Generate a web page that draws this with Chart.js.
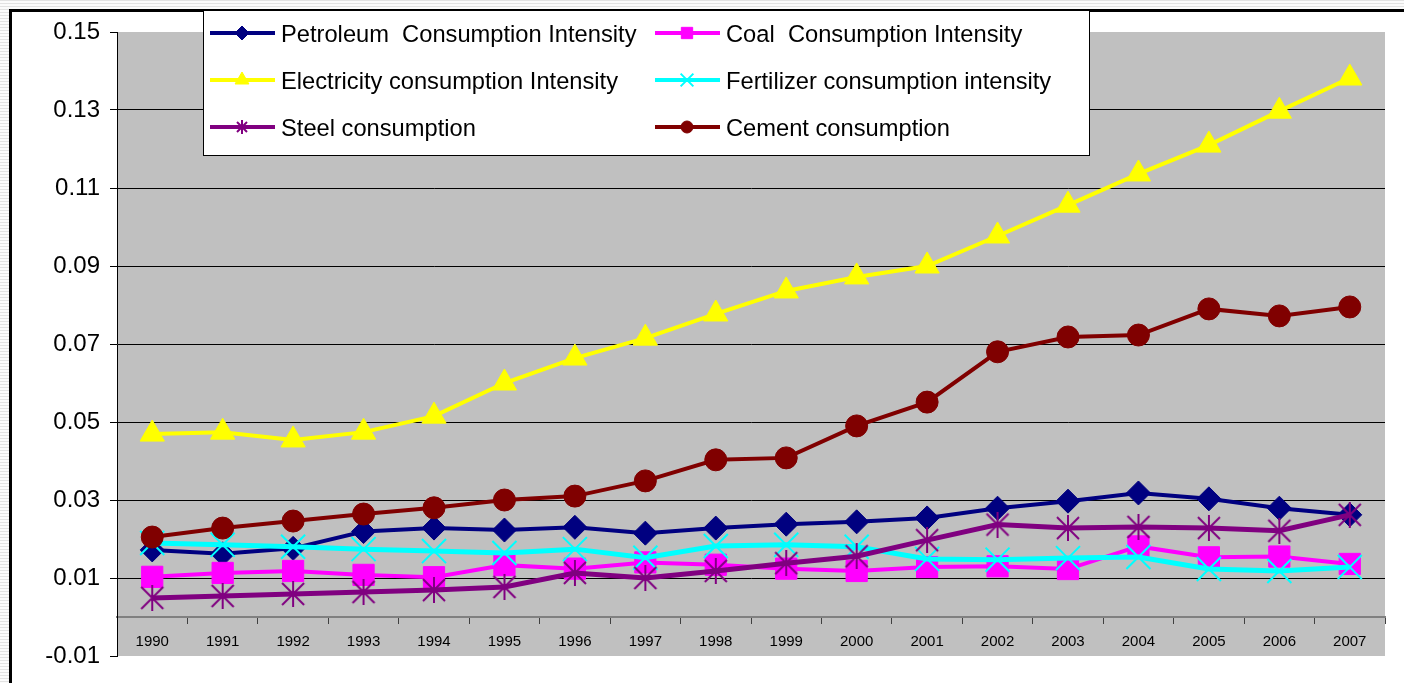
<!DOCTYPE html>
<html>
<head>
<meta charset="utf-8">
<script src="https://cdn.jsdelivr.net/npm/chart.js@4.4.0/dist/chart.umd.min.js"></script>
<style>
  html, body { margin: 0; padding: 0; overflow: hidden; }
  body {
    width: 1404px; height: 683px; position: relative;
    background: repeating-linear-gradient(to bottom, #e2e2e2 0px, #e2e2e2 1px, #fbfbfb 1px, #fbfbfb 3px);
  }
  #frame {
    position: absolute; left: 9px; top: 9px; width: 1392px; height: 671px;
    background: #fff; border-left: 3px solid #000; border-top: 3px solid #000;
  }
  #wrap { position: absolute; left: 0; top: 0; width: 1404px; height: 683px; }
</style>
</head>
<body>
<div id="frame"></div>
<div id="wrap"><canvas id="chart"></canvas></div>
<script>
const years = ["1990", "1991", "1992", "1993", "1994", "1995", "1996", "1997", "1998",
  "1999", "2000", "2001", "2002", "2003", "2004", "2005", "2006", "2007"];

const petroleum = [0.0172, 0.0162, 0.0176, 0.0219, 0.0228, 0.0223, 0.0230, 0.0215, 0.0228,
  0.0238, 0.0244, 0.0254, 0.0279, 0.0297, 0.0318, 0.0303, 0.0279, 0.0262];
const coal = [0.0103, 0.0113, 0.0118, 0.0108, 0.0102, 0.0133, 0.0124, 0.0140, 0.0134,
  0.0124, 0.0118, 0.0128, 0.0130, 0.0123, 0.0181, 0.0153, 0.0155, 0.0136];
const electricity = [0.0469, 0.0474, 0.0454, 0.0474, 0.0515, 0.0600, 0.0664, 0.0715, 0.0777,
  0.0836, 0.0872, 0.0900, 0.0977, 0.1056, 0.1136, 0.1210, 0.1297, 0.1382];
const fertilizer = [0.0190, 0.0185, 0.0180, 0.0174, 0.0169, 0.0164, 0.0174, 0.0152, 0.0182,
  0.0185, 0.0180, 0.0149, 0.0147, 0.0151, 0.0154, 0.0123, 0.0118, 0.0128];
const steel = [0.0049, 0.0054, 0.0059, 0.0064, 0.0069, 0.0077, 0.0113, 0.0100, 0.0118,
  0.0138, 0.0156, 0.0197, 0.0237, 0.0228, 0.0231, 0.0228, 0.0221, 0.0262];
const cement = [0.0205, 0.0228, 0.0246, 0.0264, 0.0280, 0.0300, 0.0310, 0.0349, 0.0403,
  0.0408, 0.0490, 0.0551, 0.0680, 0.0718, 0.0723, 0.0790, 0.0772, 0.0795];

const seriesNames = [
  "Petroleum  Consumption Intensity",
  "Coal  Consumption Intensity",
  "Electricity consumption Intensity",
  "Fertilizer consumption intensity",
  "Steel consumption",
  "Cement consumption"
];

const yTickMin = -0.01;
const yTickMax = 0.15;
const yTickStep = 0.02;

const FONT = "'Liberation Sans', Arial, sans-serif";

// Excel-style asterisk: vertical bar plus an X
function makeAsterisk(size, color, lw) {
  const c = document.createElement("canvas");
  c.width = size;
  c.height = size;
  const g = c.getContext("2d");
  g.strokeStyle = color;
  g.lineWidth = lw;
  const m = lw;
  g.beginPath();
  g.moveTo(size / 2, 0); g.lineTo(size / 2, size);
  g.moveTo(m, m); g.lineTo(size - m, size - m);
  g.moveTo(size - m, m); g.lineTo(m, size - m);
  g.stroke();
  return c;
}

function isEdge(v) {
  return Math.abs(v - yTickMax) < 1e-6 || Math.abs(v - yTickMin) < 1e-6;
}

// gray plot area
const plotBg = {
  id: "plotBg",
  beforeDraw(chart) {
    const { ctx, chartArea: a } = chart;
    ctx.save();
    ctx.fillStyle = "#c0c0c0";
    ctx.fillRect(a.left, a.top, a.right - a.left, a.bottom - a.top);
    ctx.restore();
  }
};

// boxed two-column legend overlapping the plot, like the Excel original
const boxLegend = {
  id: "boxLegend",
  afterDraw(chart) {
    const ctx = chart.ctx;
    ctx.save();
    ctx.fillStyle = "#fff";
    ctx.strokeStyle = "#000";
    ctx.lineWidth = 1;
    ctx.fillRect(203.5, 10.5, 886, 145);
    ctx.strokeRect(203.5, 10.5, 886, 145);
    ctx.font = "23.7px " + FONT;
    ctx.textBaseline = "middle";
    chart.data.datasets.forEach((ds, i) => {
      const x = 210 + (i % 2) * 445;
      const y = 33 + Math.floor(i / 2) * 47;
      ctx.strokeStyle = ds.borderColor;
      ctx.lineWidth = 4;
      ctx.beginPath();
      ctx.moveTo(x, y);
      ctx.lineTo(x + 65, y);
      ctx.stroke();
      ctx.fillStyle = ds.borderColor;
      ctx.lineWidth = ds.pointBorderWidth || 1;
      Chart.helpers.drawPoint(ctx, {
        pointStyle: ds.legendStyle,
        radius: ds.legendRadius,
        borderWidth: ds.pointBorderWidth || 1,
        rotation: 0
      }, x + 32, y);
      ctx.fillStyle = "#000";
      ctx.fillText(ds.label, x + 71, y + 2);
    });
    ctx.restore();
  }
};

new Chart(document.getElementById("chart"), {
  type: "line",
  data: {
    labels: years,
    datasets: [
      {
        label: seriesNames[0], data: petroleum, order: 6,
        borderColor: "#000080", backgroundColor: "#000080", borderWidth: 4,
        pointStyle: "rectRot", pointRadius: 12, pointBorderWidth: 1,
        legendStyle: "rectRot", legendRadius: 7
      },
      {
        label: seriesNames[1], data: coal, order: 5,
        borderColor: "#ff00ff", backgroundColor: "#ff00ff", borderWidth: 4,
        pointStyle: "rect", pointRadius: 15, pointBorderWidth: 1,
        legendStyle: "rect", legendRadius: 8
      },
      {
        label: seriesNames[2], data: electricity, order: 4,
        borderColor: "#ffff00", backgroundColor: "#ffff00", borderWidth: 4,
        pointStyle: "triangle", pointRadius: 14, pointBorderWidth: 1,
        legendStyle: "triangle", legendRadius: 8
      },
      {
        label: seriesNames[3], data: fertilizer, order: 3,
        borderColor: "#00ffff", backgroundColor: "#00ffff", borderWidth: 5,
        pointStyle: "crossRot", pointRadius: 17, pointBorderWidth: 2,
        legendStyle: "crossRot", legendRadius: 9
      },
      {
        label: seriesNames[4], data: steel, order: 2,
        borderColor: "#800080", backgroundColor: "#800080", borderWidth: 5,
        pointStyle: makeAsterisk(26, "#800080", 2), pointRadius: 13,
        legendStyle: makeAsterisk(14, "#800080", 2), legendRadius: 7
      },
      {
        label: seriesNames[5], data: cement, order: 1,
        borderColor: "#800000", backgroundColor: "#800000", borderWidth: 4,
        pointStyle: "circle", pointRadius: 11, pointBorderWidth: 1,
        legendStyle: "circle", legendRadius: 6
      }
    ]
  },
  options: {
    responsive: true,
    maintainAspectRatio: false,
    animation: false,
    events: [],
    layout: { padding: { left: 0, top: 32, right: 17, bottom: 27 } },
    elements: { line: { tension: 0 } },
    scales: {
      x: {
        position: { y: 0 },
        offset: true,
        grid: {
          offset: true,
          drawOnChartArea: false,
          drawTicks: true,
          tickLength: 6,
          tickColor: "#404040"
        },
        border: { color: "#808080", width: 2 },
        ticks: {
          color: "#000",
          padding: 10,
          maxRotation: 0,
          autoSkip: false,
          font: { family: FONT, size: 15 }
        }
      },
      y: {
        min: yTickMin,
        max: yTickMax,
        afterFit(scale) { scale.width = 117; },
        grid: {
          color: (c) => isEdge(c.tick.value) ? "rgba(0,0,0,0)" : "#000",
          tickColor: "#000",
          tickLength: 7,
          lineWidth: 1
        },
        border: { color: "#000", width: 1 },
        ticks: {
          stepSize: yTickStep,
          color: "#000",
          padding: 10,
          font: { family: FONT, size: 24 },
          callback: (v) => Number(v).toFixed(2)
        }
      }
    },
    plugins: {
      legend: { display: false },
      tooltip: { enabled: false }
    }
  },
  plugins: [plotBg, boxLegend]
});
</script>
</body>
</html>
